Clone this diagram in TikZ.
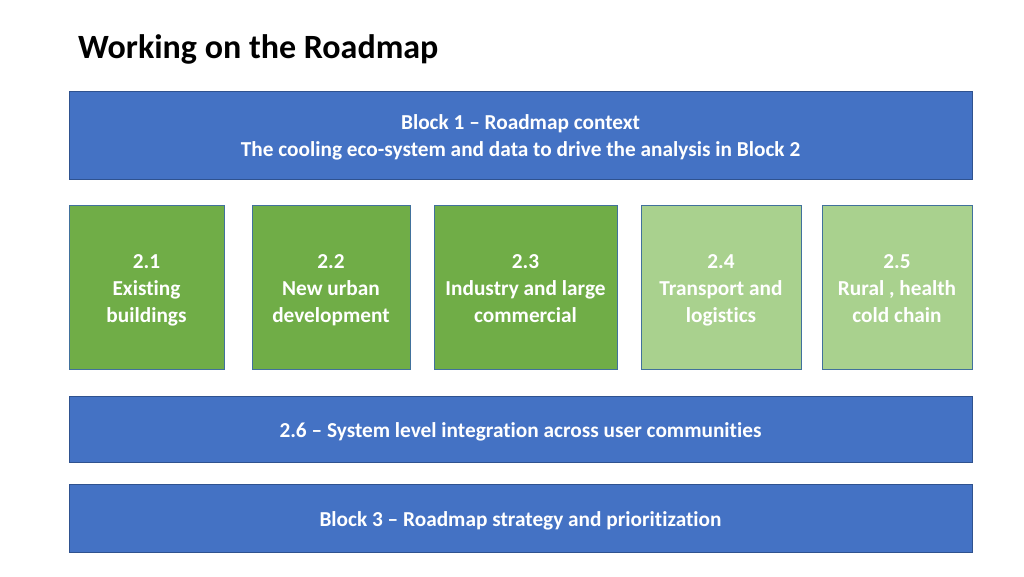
\documentclass[tikz,border=0pt]{standalone}
\usepackage{fontspec}
\setmainfont[Ligatures=NoCommon]{Carlito}
\definecolor{blk}{HTML}{4472C4}
\definecolor{blkline}{HTML}{2F528F}
\definecolor{dgreen}{HTML}{70AD47}
\definecolor{lgreen}{HTML}{A9D18E}
\definecolor{gline}{HTML}{41719C}
\newcommand\mystrut{\rule[-5.1pt]{0pt}{27pt}}
\tikzset{
  bluebox/.style={draw=blkline, line width=0.8pt, fill=blk, text=white, font=\bfseries\fontsize{21.3}{27}\selectfont, align=center, inner sep=0pt},
  greenbox/.style={draw=gline, line width=0.8pt, fill=dgreen, text=white, font=\bfseries\fontsize{21.3}{27}\selectfont, align=center, inner sep=0pt},
  lightbox/.style={greenbox, fill=lgreen}
}
\begin{document}
\begin{tikzpicture}[x=1pt,y=-1pt]
\useasboundingbox (0,0) rectangle (1024,576);
\node[anchor=west, inner sep=0pt, font=\bfseries\fontsize{34}{40}\selectfont] (title) at (78,50) {Working on the Roadmap\strut};
\node[bluebox, minimum width=903pt, minimum height=88pt] (b1) at (520.5,135) {\mystrut Block 1 -- Roadmap context\\The cooling eco-system and data to drive the analysis in Block 2\mystrut};
\node[greenbox, minimum width=155pt, minimum height=164pt] (g1) at (146.5,287) {\mystrut 2.1\\Existing\\buildings\mystrut};
\node[greenbox, minimum width=158pt, minimum height=164pt] (g2) at (331,287) {\mystrut 2.2\\New urban\\development\mystrut};
\node[greenbox, minimum width=183pt, minimum height=164pt] (g3) at (525.5,287) {\mystrut 2.3\\Industry and large\\commercial\mystrut};
\node[lightbox, minimum width=160pt, minimum height=164pt] (g4) at (721,287) {\mystrut 2.4\\Transport and\\logistics\mystrut};
\node[lightbox, minimum width=150pt, minimum height=164pt] (g5) at (897,287) {\mystrut 2.5\\Rural , health\\cold chain\mystrut};
\node[bluebox, minimum width=903pt, minimum height=66pt] (b26) at (520.5,429) {\mystrut 2.6 -- System level integration across user communities};
\node[bluebox, minimum width=903pt, minimum height=68pt] (b3) at (520.5,518) {\mystrut Block 3 -- Roadmap strategy and prioritization};
\end{tikzpicture}
\end{document}
